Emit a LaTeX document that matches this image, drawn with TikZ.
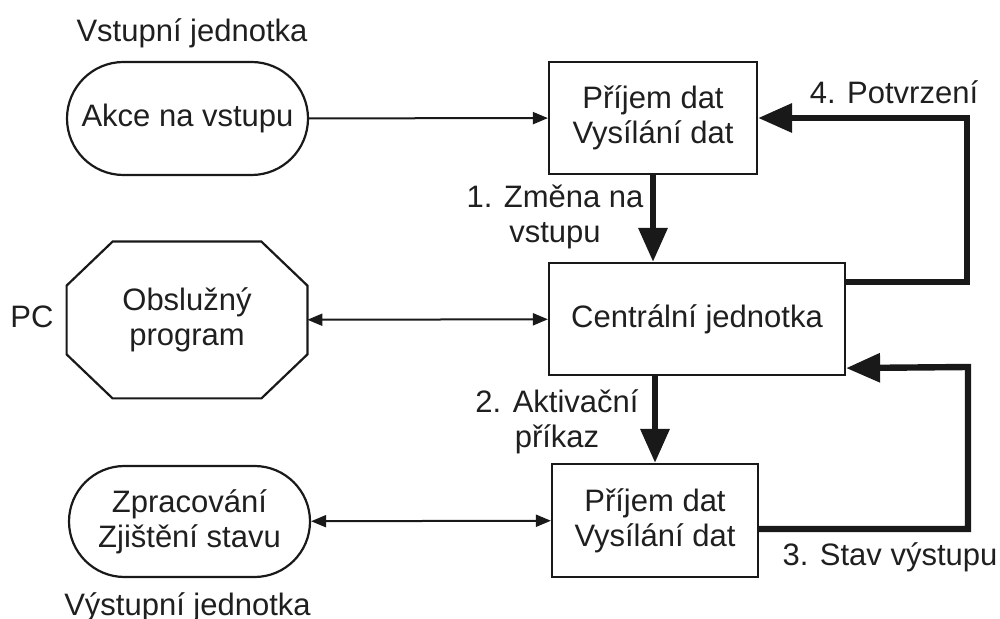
\documentclass[tikz,border=0pt]{standalone}
\usepackage{fontspec}
\setmainfont{Liberation Sans}
\usetikzlibrary{shapes.misc,arrows.meta,positioning}

\tikzset{
  txt/.style={font=\fontsize{15.5}{17.5}\selectfont,text=black!88},
  box/.style={txt,draw=black!90,line width=1.1pt,inner sep=0pt,align=center},
  pill/.style={box,rounded rectangle},
  octa/.style={txt,inner sep=0pt,align=center},
  edge/.style={draw=black!90,line width=1.1pt,line join=miter},
  lbl/.style={txt,inner sep=0pt,align=center,anchor=base},
  link/.style={draw=black!90,line width=1pt,-{Triangle[length=7.5pt,width=6pt]}},
  dlink/.style={draw=black!90,line width=1pt,{Triangle[length=7.5pt,width=6pt]}-{Triangle[length=7.5pt,width=6pt]}},
  flow/.style={draw=black!90,line width=3.2pt,-{Triangle[length=17pt,width=14pt]}}
}

\begin{document}
\begin{tikzpicture}[x=0.5pt,y=-0.5pt]
\useasboundingbox (0,0) rectangle (1000,619);

% input unit
\node[lbl] (vin) at (192,42) {Vstupní jednotka};
\node[pill,minimum width=120.5pt,minimum height=56.5pt] (akce) at (187.5,118.5) {Akce na vstupu};
\node[box,minimum width=104pt,minimum height=56pt] (rxin) at (653,118) {Příjem dat\\Vysílání dat};

% central unit and PC
\node[box,minimum width=148pt,minimum height=56pt] (cpu) at (697,319) {Centrální jednotka};
\node[octa,minimum width=120pt,minimum height=78pt] (prog) at (187,320) {Obslužný\\program};
\draw[edge] ([xshift=23pt]prog.north west) -- ([xshift=-23pt]prog.north east)
  -- ([yshift=-22pt]prog.north east) -- ([yshift=22pt]prog.south east)
  -- ([xshift=-23pt]prog.south east) -- ([xshift=23pt]prog.south west)
  -- ([yshift=22pt]prog.south west) -- ([yshift=-22pt]prog.north west) -- cycle;
\node[lbl] (pc) at (32,328) {PC};

% output unit
\node[box,minimum width=103pt,minimum height=56.5pt] (rxout) at (655,520.5) {Příjem dat\\Vysílání dat};
\node[pill,minimum width=120.5pt,minimum height=55.5pt] (zprac) at (189.5,521.5) {Zpracování\\Zjištění stavu};
\node[lbl] (vout) at (187.5,615) {Výstupní jednotka};

% connectors
\coordinate (ret4) at (967,118);
\coordinate (ret3) at (968,367);
\draw[link] (akce) -- (rxin);
\draw[dlink] (prog) -- (cpu);
\draw[dlink] (zprac) -- (rxout);
\draw[flow] (rxin.south) -- (rxin.south |- cpu.north);
\draw[flow] (rxout.north |- cpu.south) -- (rxout.north);
\draw[flow] ([yshift=-10pt]cpu.north east) -| (ret4) -- (rxin.east);
\draw[flow] ([yshift=-4.25pt]rxout.east) -| (ret3) -- ([yshift=4pt]cpu.south east);

% labels
\node[lbl] (l1) at (555,243) {1. Změna na\\vstupu};
\node[lbl] (l2) at (557,448) {2. Aktivační\\příkaz};
\node[lbl] (l3) at (890,565) {3. Stav výstupu};
\node[lbl] (l4) at (894,104) {4. Potvrzení};
\end{tikzpicture}
\end{document}
